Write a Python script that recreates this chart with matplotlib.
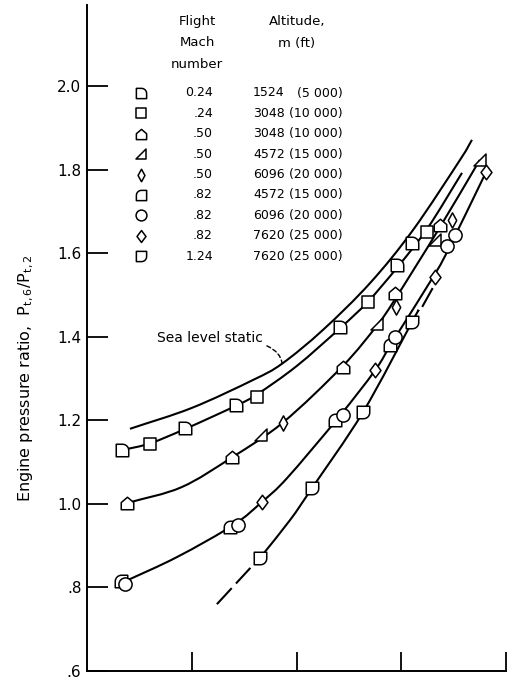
import numpy as np
import matplotlib
matplotlib.use("Agg")
import matplotlib.pyplot as plt
from matplotlib.path import Path
from matplotlib.patches import PathPatch

# ---Legend table
mach_labels = ["0.24", ".24", ".50", ".50", ".50", ".82", ".82", ".82", "1.24"]
alt_m = ["1524", "3048", "3048", "4572", "6096", "4572", "6096", "7620", "7620"]
alt_ft = ["(5 000)", "(10 000)", "(10 000)", "(15 000)", "(20 000)",
          "(15 000)", "(20 000)", "(25 000)", "(25 000)"]

# ---Data points (x in axis tick units, y = Pt,6/Pt,2)
s1_x = [0.334, 0.936, 1.422, 2.415, 2.959, 3.103]
s1_y = [1.129, 1.182, 1.237, 1.424, 1.572, 1.625]
s2_x = [0.601, 1.623, 2.683, 3.246]
s2_y = [1.144, 1.256, 1.484, 1.651]
s3_x = [0.382, 1.384, 2.444, 2.940, 3.370]
s3_y = [1.002, 1.113, 1.328, 1.505, 1.668]
s4_x = [1.661, 2.768, 3.322, 3.752]
s4_y = [1.165, 1.431, 1.632, 1.824]
s5_x = [1.871, 2.950, 3.484]
s5_y = [1.194, 1.472, 1.680]
s6_x = [0.325, 1.365, 2.368, 2.893]
s6_y = [0.816, 0.945, 1.201, 1.381]
s7_x = [0.363, 1.442, 2.444, 2.940, 3.437, 3.513]
s7_y = [0.808, 0.950, 1.213, 1.400, 1.618, 1.644]
s8_x = [1.671, 2.749, 3.322, 3.809]
s8_y = [1.005, 1.321, 1.544, 1.795]
s9_x = [1.652, 2.148, 2.635, 3.103]
s9_y = [0.871, 1.038, 1.220, 1.436]

# ---Faired curves
sea_x = [0.41, 1.0, 1.585, 1.862, 2.253, 2.702, 3.112, 3.561, 3.675]
sea_y = [1.180, 1.230, 1.297, 1.336, 1.417, 1.529, 1.656, 1.824, 1.872]
m024_x = [0.334, 0.60, 0.94, 1.42, 1.62, 2.0, 2.42, 2.68, 2.96, 3.25, 3.58]
m024_y = [1.129, 1.145, 1.180, 1.235, 1.262, 1.330, 1.422, 1.484, 1.566, 1.660, 1.793]
m050_x = [0.38, 0.9, 1.38, 1.87, 2.44, 2.77, 2.94, 3.35, 3.75]
m050_y = [1.002, 1.040, 1.111, 1.195, 1.33, 1.428, 1.49, 1.655, 1.824]
m082_x = [0.34, 0.86, 1.40, 1.67, 1.91, 2.40, 2.75, 2.92, 3.32, 3.47, 3.81]
m082_y = [0.812, 0.873, 0.950, 1.005, 1.062, 1.207, 1.32, 1.39, 1.55, 1.62, 1.795]
m124_x = [1.652, 1.94, 2.148, 2.635, 3.103, 3.16]
m124_y = [0.871, 0.962, 1.038, 1.220, 1.436, 1.462]
m124_low_x = [1.24, 1.56]
m124_low_y = [0.760, 0.847]
m124_top_x = [3.20, 3.30]
m124_top_y = [1.472, 1.517]

y_ticks = [0.6, 0.8, 1.0, 1.2, 1.4, 1.6, 1.8, 2.0]
y_ticklabels = [".6", ".8", "1.0", "1.2", "1.4", "1.6", "1.8", "2.0"]
x_ticks = [1, 2, 3, 4]


#---Marker shapes:
def corner_marker(fx, fy):
    t = np.linspace(0, np.pi / 2, 12)
    arc = np.column_stack([np.cos(t), np.sin(t)])
    verts = np.vstack([[-1, -1], [1, -1], arc, [-1, 1], [-1, -1]])
    verts[:, 0] *= fx
    verts[:, 1] *= fy
    return Path(verts, closed=True)


square = Path([(-1, -1), (1, -1), (1, 1), (-1, 1), (-1, -1)], closed=True)
house = Path([(-1, -1), (1, -1), (1, 0.15), (0, 1), (-1, 0.15), (-1, -1)], closed=True)
tri = Path([(-1, -1), (1, -1), (1, 1), (-1, -1)], closed=True)
thin_dia = Path([(0, 1), (0.55, 0), (0, -1), (-0.55, 0), (0, 1)], closed=True)
dia = Path([(0, 1), (0.75, 0), (0, -1), (-0.75, 0), (0, 1)], closed=True)

series = [
    (s1_x, s1_y, corner_marker(1, 1), 9),
    (s2_x, s2_y, square, 9),
    (s3_x, s3_y, house, 9),
    (s4_x, s4_y, tri, 9),
    (s5_x, s5_y, thin_dia, 11),
    (s6_x, s6_y, corner_marker(-1, 1), 9),
    (s7_x, s7_y, "o", 9.5),
    (s8_x, s8_y, dia, 10.5),
    (s9_x, s9_y, corner_marker(1, -1), 9),
]


#---Faired (smooth) curve through the read points, drawn as bezier path:
def faired_path(xs, ys):
    p = np.column_stack([xs, ys])
    ext = np.vstack([2 * p[0] - p[1], p, 2 * p[-1] - p[-2]])
    verts = [p[0]]
    codes = [Path.MOVETO]
    for i in range(len(p) - 1):
        p0, p1, p2, p3 = ext[i], ext[i + 1], ext[i + 2], ext[i + 3]
        verts += [p1 + (p2 - p0) / 6, p2 - (p3 - p1) / 6, p2]
        codes += [Path.CURVE4] * 3
    return Path(verts, codes)


W, H = 513, 677
fig = plt.figure(figsize=(W / 100, H / 100), dpi=100)
ax = fig.add_axes([87 / W, 6 / H, (506 - 87) / W, (671 - 5) / H])
ax.set_xlim(0, 4)
ax.set_ylim(0.6, 2.195)

#---Curves:
for cx, cy in [(sea_x, sea_y), (m024_x, m024_y), (m050_x, m050_y),
               (m082_x, m082_y), (m124_x, m124_y)]:
    ax.add_patch(PathPatch(faired_path(cx, cy), fill=False, ec="black", lw=1.5,
                           capstyle="butt", zorder=2))
ax.plot(m124_top_x, m124_top_y, color="black", lw=1.5, solid_capstyle="butt", zorder=2)
ax.plot(m124_low_x, m124_low_y, color="black", lw=1.5, linestyle=(0, (10.5, 3)), zorder=2)

#---Data markers:
for xs, ys, mk, ms in series:
    ax.plot(xs, ys, linestyle="none", marker=mk, markersize=ms, mfc="white",
            mec="black", mew=1.1, zorder=3, clip_on=False)

#---Sea level label with leader:
ax.annotate("Sea level static", xy=(1.862, 1.336), xytext=(0.668, 1.398),
            fontsize=10, va="center", ha="left",
            arrowprops=dict(arrowstyle="-", color="black", lw=1.0, linestyle=(0, (3, 2)),
                            shrinkA=1, shrinkB=0,
                            connectionstyle="angle3,angleA=0,angleB=95"))

#---Axes style:
for side in ["top", "right"]:
    ax.spines[side].set_visible(False)
for side in ["left", "bottom"]:
    ax.spines[side].set_linewidth(1.4)
ax.set_yticks(y_ticks)
ax.set_yticklabels(y_ticklabels, fontsize=11)
ax.set_xticks(x_ticks)
ax.tick_params(axis="y", direction="in", length=15, width=1.3, pad=4)
ax.tick_params(axis="x", direction="in", length=14, width=1.3, labelbottom=False)

fig.text(26 / W, 1 - 378 / H, r"Engine pressure ratio,  $\mathregular{P_{t,6}/P_{t,2}}$",
         rotation=90, ha="center", va="center", fontsize=11.5)


#---Legend table (pixel positions):
def fx(x):
    return x / W


def fy(y):
    return 1 - y / H


for i, line in enumerate(["Flight", "Mach", "number"]):
    fig.text(fx(197), fy(22 + 21 * i), line, ha="center", va="center", fontsize=9.5)
fig.text(fx(297), fy(22), "Altitude,", ha="center", va="center", fontsize=9.5)
fig.text(fx(297), fy(43), "m (ft)", ha="center", va="center", fontsize=9.5)

for i in range(len(mach_labels)):
    ry = 93 + 20.4 * i
    mk, ms = series[i][2], series[i][3]
    ax.plot([fx(141)], [fy(ry)], transform=fig.transFigure, linestyle="none",
            marker=mk, markersize=ms * 0.82, mfc="white", mec="black", mew=1.1,
            clip_on=False)
    fig.text(fx(213), fy(ry), mach_labels[i], ha="right", va="center", fontsize=9)
    fig.text(fx(253), fy(ry), alt_m[i], ha="left", va="center", fontsize=9)
    fig.text(fx(343), fy(ry), alt_ft[i], ha="right", va="center", fontsize=9)

fig.savefig("out.png", dpi=100, facecolor="white")
